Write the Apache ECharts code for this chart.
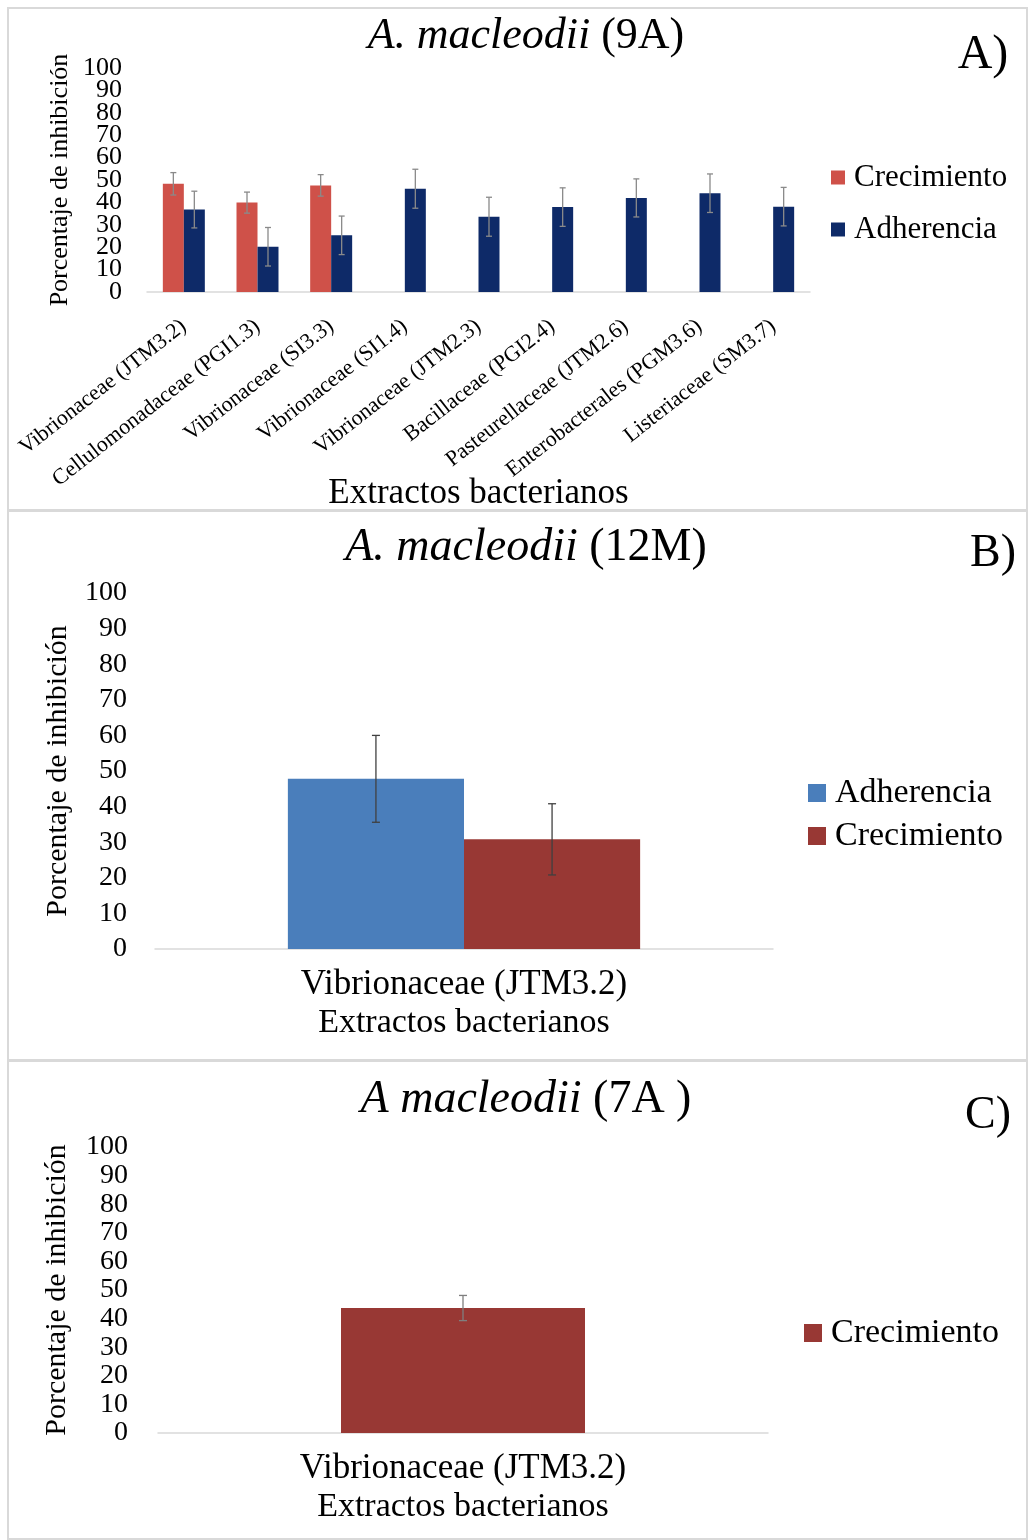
<!DOCTYPE html>
<html>
<head>
<meta charset="utf-8">
<script src="https://cdn.jsdelivr.net/npm/echarts@6/dist/echarts.min.js"></script>
<style>
  body { margin: 0; background: #fff; }
  #frame { position: absolute; left: 7px; top: 7px; width: 1017px; height: 1529px; border: 2px solid #d9d9d9; }
  .sep { position: absolute; left: 7px; width: 1019px; height: 0; border-top: 3px solid #d9d9d9; }
  .panel { position: absolute; left: 0; width: 1028px; }
</style>
</head>
<body>
<div id="frame"></div>
<div class="sep" style="top:509px"></div>
<div class="sep" style="top:1059px"></div>
<div id="chartA" class="panel" style="top:0;height:510px"></div>
<div id="chartB" class="panel" style="top:510px;height:550px"></div>
<div id="chartC" class="panel" style="top:1060px;height:480px"></div>
<script>
// ---- datos ----
const catsA = ['Vibrionaceae (JTM3.2)', 'Cellulomonadaceae (PGI1.3)', 'Vibrionaceae (SI3.3)', 'Vibrionaceae (SI1.4)',
    'Vibrionaceae (JTM2.3)', 'Bacillaceae (PGI2.4)', 'Pasteurellaceae (JTM2.6)', 'Enterobacterales (PGM3.6)', 'Listeriaceae (SM3.7)'];
const crecA = [48.3, 39.9, 47.6, '-', '-', '-', '-', '-', '-'];
const crecErrA = [5.0, 4.7, 4.8];
const adhA = [36.8, 20.2, 25.3, 46.1, 33.6, 37.9, 42.0, 44.1, 38.1];
const adhErrA = [8.2, 8.6, 8.6, 8.7, 8.7, 8.6, 8.5, 8.6, 8.6];

const catsB = ['Vibrionaceae (JTM3.2)'];
const adhB = [47.8];
const adhErrB = [12.2];
const crecB = [30.8];
const crecErrB = [10.0];

const catsC = ['Vibrionaceae (JTM3.2)'];
const crecC = [43.7];
const crecErrC = [4.4];

const yMin = 0, yMax = 100, yStep = 10;

const SERIF = "'Liberation Serif', 'Times New Roman', serif";

// barras de error: idx = posicion de la serie dentro del grupo
function errorSeries(vals, errs, idx, nSeries, gap, color, cap) {
    const data = [];
    errs.forEach((e, i) => {
        if (vals[i] !== '-') data.push([i, vals[i], e]);
    });
    return {
        type: 'custom',
        z: 10,
        silent: true,
        data: data,
        renderItem: function (params, api) {
            const v = api.value(1), e = api.value(2);
            const band = api.size([1, 0])[0];
            const bw = band * (1 - gap) / nSeries;
            const off = (idx - (nSeries - 1) / 2) * bw;
            const hi = api.coord([api.value(0), v + e]);
            const lo = api.coord([api.value(0), v - e]);
            const x = hi[0] + off;
            const st = { stroke: color, lineWidth: 1.3 };
            return {
                type: 'group',
                children: [
                    { type: 'line', shape: { x1: x, y1: hi[1], x2: x, y2: lo[1] }, style: st },
                    { type: 'line', shape: { x1: x - cap / 2, y1: hi[1], x2: x + cap / 2, y2: hi[1] }, style: st },
                    { type: 'line', shape: { x1: x - cap / 2, y1: lo[1], x2: x + cap / 2, y2: lo[1] }, style: st }
                ]
            };
        }
    };
}

// show: 'all' | 'even' | 'odd'  (en A las etiquetas se pisan, se reparten en dos ejes)
function yAxisCfg(fontSize, margin, nameSize, nameGap, show) {
    show = show || 'all';
    const keep = v => show === 'all' || (show === 'even' ? (v / yStep) % 2 === 0 : (v / yStep) % 2 === 1);
    return {
        type: 'value', position: 'left', offset: 0,
        min: yMin, max: yMax, interval: yStep,
        name: show === 'odd' ? '' : 'Porcentaje de inhibición',
        nameLocation: 'middle', nameGap: nameGap, nameMoveOverlap: false,
        nameTextStyle: { fontFamily: SERIF, fontSize: nameSize, color: '#000' },
        axisLine: { show: false }, axisTick: { show: false }, splitLine: { show: false },
        axisLabel: {
            fontFamily: SERIF, fontSize: fontSize, color: '#000', margin: margin,
            showMinLabel: show !== 'odd', showMaxLabel: show !== 'odd', hideOverlap: false,
            formatter: v => keep(v) ? String(v) : ''
        }
    };
}

function titleCfg(italic, normal, size, top, letter, letterSize, letterX, letterTop) {
    return [{
        text: '{i|' + italic + '}{n| ' + normal + '}',
        left: 521, textAlign: 'center', top: top,
        textStyle: {
            fontWeight: 'normal',
            rich: {
                i: { fontFamily: SERIF, fontSize: size, fontStyle: 'italic', fontWeight: 'normal', color: '#000' },
                n: { fontFamily: SERIF, fontSize: size, fontWeight: 'normal', color: '#000' }
            }
        }
    }, {
        text: letter, left: letterX, textAlign: 'center', top: letterTop,
        textStyle: { fontFamily: SERIF, fontSize: letterSize, fontWeight: 'normal', color: '#000' }
    }];
}

function legendCfg(items, left, top, size, gap, box) {
    return {
        orient: 'vertical', left: left, top: top, padding: 0,
        icon: 'rect', itemWidth: box, itemHeight: box, itemGap: gap,
        textStyle: { fontFamily: SERIF, fontSize: size, color: '#000', lineHeight: size + 2, padding: [0, 0, 0, 4] },
        data: items
    };
}

function xNameCfg(size) {
    return {
        name: 'Extractos bacterianos', nameLocation: 'middle', nameMoveOverlap: false,
        nameTextStyle: { fontFamily: SERIF, fontSize: size, color: '#000' }
    };
}

// ---- panel A ----
const gapA = 0.43;
const chartA = echarts.init(document.getElementById('chartA'));
chartA.setOption({
    animation: false,
    title: titleCfg('A. macleodii', '(9A)', 44, 9, 'A)', 48, 978, 26),
    legend: legendCfg([
        { name: 'Crecimiento', itemStyle: { color: '#cf5149' } },
        { name: 'Adherencia', itemStyle: { color: '#0e2a68' } }
    ], 831, 161, 31, 19, 14),
    grid: { left: 147, right: 218, top: 68, bottom: 218, outerBoundsMode: 'none' },
    xAxis: Object.assign(xNameCfg(35), {
        type: 'category', data: catsA, nameGap: 184,
        axisLine: { lineStyle: { color: '#d9d9d9', width: 1.5 } },
        axisTick: { show: false },
        axisLabel: { interval: 0, rotate: 38, margin: 32, fontFamily: SERIF, fontSize: 22, color: '#000' }
    }),
    yAxis: [
        yAxisCfg(26, 25, 26, 74, 'even'),
        yAxisCfg(26, 25, 26, 74, 'odd')
    ],
    series: [
        { name: 'Crecimiento', type: 'bar', data: crecA, barGap: '0%', barCategoryGap: gapA * 100 + '%', itemStyle: { color: '#cf5149' } },
        { name: 'Adherencia', type: 'bar', data: adhA, barGap: '0%', barCategoryGap: gapA * 100 + '%', itemStyle: { color: '#0e2a68' } },
        errorSeries(crecA, crecErrA, 0, 2, gapA, '#8a8a8a', 6),
        errorSeries(adhA, adhErrA, 1, 2, gapA, '#8a8a8a', 6)
    ]
});

// ---- panel B ----
const gapB = 0.43;
const chartB = echarts.init(document.getElementById('chartB'));
chartB.setOption({
    animation: false,
    title: titleCfg('A. macleodii', '(12M)', 46, 10, 'B)', 46, 988, 16),
    legend: legendCfg([
        { name: 'Adherencia', itemStyle: { color: '#4a7ebb' } },
        { name: 'Crecimiento', itemStyle: { color: '#983834' } }
    ], 808, 265, 34, 7, 18),
    grid: { left: 155, right: 255, top: 83, bottom: 111, outerBoundsMode: 'none' },
    xAxis: Object.assign(xNameCfg(34), {
        type: 'category', data: catsB, nameGap: 57,
        axisLine: { lineStyle: { color: '#d9d9d9', width: 1.5 } },
        axisTick: { show: false },
        axisLabel: { fontFamily: SERIF, fontSize: 35, color: '#000', margin: 18 }
    }),
    yAxis: yAxisCfg(28, 28, 30, 82),
    series: [
        { name: 'Adherencia', type: 'bar', data: adhB, barGap: '0%', barCategoryGap: gapB * 100 + '%', itemStyle: { color: '#4a7ebb' } },
        { name: 'Crecimiento', type: 'bar', data: crecB, barGap: '0%', barCategoryGap: gapB * 100 + '%', itemStyle: { color: '#983834' } },
        errorSeries(adhB, adhErrB, 0, 2, gapB, '#404040', 8),
        errorSeries(crecB, crecErrB, 1, 2, gapB, '#404040', 8)
    ]
});

// ---- panel C ----
const gapC = 0.6;
const chartC = echarts.init(document.getElementById('chartC'));
chartC.setOption({
    animation: false,
    title: titleCfg('A macleodii', '(7A )', 46, 12, 'C)', 46, 983, 28),
    legend: legendCfg([
        { name: 'Crecimiento', itemStyle: { color: '#983834' } }
    ], 804, 255, 34, 10, 18),
    grid: { left: 158, right: 260, top: 87, bottom: 107, outerBoundsMode: 'none' },
    xAxis: Object.assign(xNameCfg(34), {
        type: 'category', data: catsC, nameGap: 57,
        axisLine: { lineStyle: { color: '#d9d9d9', width: 1.5 } },
        axisTick: { show: false },
        axisLabel: { fontFamily: SERIF, fontSize: 35, color: '#000', margin: 18 }
    }),
    yAxis: yAxisCfg(28, 30, 30, 86),
    series: [
        { name: 'Crecimiento', type: 'bar', data: crecC, barCategoryGap: gapC * 100 + '%', itemStyle: { color: '#983834' } },
        errorSeries(crecC, crecErrC, 0, 1, gapC, '#7f7f7f', 8)
    ]
});
</script>
</body>
</html>
